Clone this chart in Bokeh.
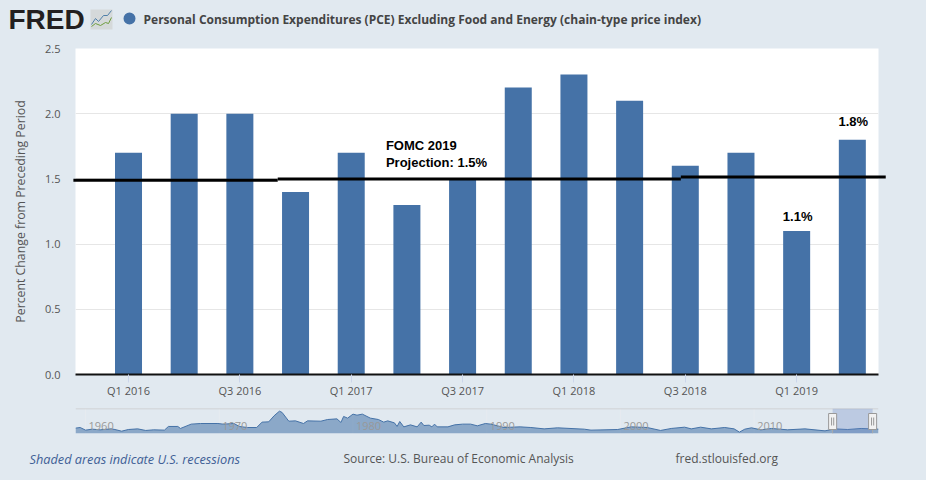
from bokeh.plotting import figure
from bokeh.layouts import column
from bokeh.models import FixedTicker, Range1d, NumeralTickFormatter
from bokeh.embed import file_html
from bokeh.resources import INLINE
from bokeh.core.properties import value

BG = "#e1e9f0"
BLUE = "#4572a7"
INK = "#555555"

quarters = ["Q1 2016", "Q2 2016", "Q3 2016", "Q4 2016", "Q1 2017", "Q2 2017", "Q3 2017",
            "Q4 2017", "Q1 2018", "Q2 2018", "Q3 2018", "Q4 2018", "Q1 2019", "Q2 2019"]
pce = [1.7, 2.0, 2.0, 1.4, 1.7, 1.3, 1.5, 2.2, 2.3, 2.1, 1.6, 1.7, 1.1, 1.8]
labelled_quarters = [0, 2, 4, 6, 8, 10, 12]
y_ticks = [0.0, 0.5, 1.0, 1.5, 2.0, 2.5]

nav_years = [1959.25, 1959.6, 1960, 1960.5, 1961.1, 1961.9, 1962.2, 1962.7, 1963.2, 1963.9, 1964.5, 1965.1,
             1965.9, 1966.2, 1966.9, 1967.1, 1967.9, 1968.6, 1969.9, 1970.3, 1971.1, 1971.5, 1972.1, 1972.8,
             1973.2, 1973.7, 1974.1, 1974.5, 1974.7, 1975.2, 1975.7, 1976.3, 1976.6, 1977.6, 1978.1, 1978.8,
             1979.1, 1979.3, 1979.6, 1980.0, 1980.3, 1980.7, 1981.3, 1981.9, 1982.3, 1982.6, 1983.1, 1983.3,
             1983.5, 1983.8, 1984.3, 1984.8, 1985.1, 1985.3, 1985.7, 1985.9, 1986.1, 1986.3, 1987.1, 1987.6,
             1988.2, 1988.8, 1989.3, 1989.9, 1990.3, 1991.3, 1992.5, 1993.3, 1994.3, 1995.3, 1997.3, 1997.8,
             1999.8, 2000.8, 2002, 2003, 2003.8, 2004.8, 2005.3, 2006, 2006.8, 2007.8, 2008.5, 2008.9,
             2009.3, 2009.8, 2010.5, 2011.3, 2012.5, 2013.8, 2015.3, 2016, 2017, 2018, 2019.3]
nav_values = [.67, .75, .42, .54, .46, .58, .5, .29, .5, .58, .38, .46,
              .42, .88, .88, .63, 1.17, 1.25, 1.25, 1.17, 1.25, .88, .75, .75,
              1.42, 1.46, 2.21, 2.79, 2.63, 1.54, 1.58, 1.25, 1.58, 1.54, 1.75, 1.83,
              1.38, 2.13, 1.92, 2.42, 2.29, 2.42, 1.92, 1.75, 1.42, 1.58, 1.33, .88,
              1.5, .83, 1.08, .83, 1.42, 1.0, 1.04, .83, 1.17, .83, .83, 1.08,
              1.17, 1.17, .96, 1.25, 1.17, .75, .83, .75, .58, .71, .54, .42,
              .5, .83, .75, .38, .63, .79, .58, .79, .58, .75, .58, .17,
              .54, .71, .46, .63, .46, .58, .33, .58, .5, .63, .54]
nav_decades = [1960, 1970, 1980, 1990, 2000, 2010]
nav_selection = [2015.87, 2018.86]

# the hand-drawn projection line is made of three pieces that do not quite meet
projection_pieces_x = [[-0.99, 2.68], [2.68, 9.92], [9.92, 13.6]]
projection_pieces_y = [[1.49, 1.49], [1.50, 1.50], [1.515, 1.515]]

# ---------- main chart ----------
p = figure(width=926, height=404, output_backend="svg", toolbar_location=None,
           x_range=Range1d(-0.952, 13.47), y_range=Range1d(0, 2.5),
           min_border_left=75, min_border_right=48, min_border_top=48, min_border_bottom=30,
           background_fill_color="white", border_fill_color=BG, outline_line_color=None)

p.vbar(x=list(range(len(pce))), top=pce, width=0.485, color=BLUE, line_color=None)

p.xgrid.visible = False
p.ygrid.grid_line_color = "#e6e6e6"
p.ygrid.ticker = FixedTicker(ticks=y_ticks)

p.xaxis.ticker = FixedTicker(ticks=labelled_quarters)
p.xaxis.major_label_overrides = {i: quarters[i] for i in labelled_quarters}
p.xaxis.axis_line_color = "#111111"
p.xaxis.axis_line_width = 2
p.xaxis.major_tick_line_color = "#ccd6eb"
p.xaxis.major_tick_in = 0
p.xaxis.major_tick_out = 8
p.xaxis.minor_tick_line_color = None
p.xaxis.major_label_standoff = 0
p.xaxis.major_label_text_font = "Open Sans"
p.xaxis.major_label_text_font_size = "11px"
p.xaxis.major_label_text_color = INK

p.yaxis.ticker = FixedTicker(ticks=y_ticks)
p.yaxis.formatter = NumeralTickFormatter(format="0.0")
p.yaxis.axis_line_color = None
p.yaxis.major_tick_line_color = None
p.yaxis.minor_tick_line_color = None
p.yaxis.major_tick_out = 0
p.yaxis.major_tick_in = 0
p.yaxis.major_label_standoff = 15
p.yaxis.major_label_text_font = "Open Sans"
p.yaxis.major_label_text_font_size = "11px"
p.yaxis.major_label_text_color = INK
p.yaxis.axis_label = "Percent Change from Preceding Period"
p.yaxis.axis_label_text_font = "Open Sans"
p.yaxis.axis_label_text_font_style = "normal"
p.yaxis.axis_label_text_font_size = "12.3px"
p.yaxis.axis_label_text_color = INK
p.yaxis.axis_label_standoff = 13

for xs, ys in zip(projection_pieces_x, projection_pieces_y):
    p.line(xs, ys, line_color="black", line_width=3, level="overlay")

bold = dict(text_font=value("Liberation Sans"), text_font_style="bold", text_font_size="13px",
            text_color="black", text_baseline="middle")
p.text(x=[5.0], y=[1.756], text=["FOMC 2019"], x_offset=[-21], **bold)
p.text(x=[5.0], y=[1.626], text=["Projection: 1.5%"], x_offset=[-21], **bold)
p.text(x=[12, 13], y=[pce[12] + 0.11, pce[13] + 0.14], text=["1.1%", "1.8%"], x_offset=[1, 1],
       text_align="center", **bold)


# page pixels to each figure's data units, for the furniture outside the frames
def px_x(px):
    return (px - 128) / 55.67


def px_y(py):
    return (374 - py) / 130.4


def nav_x(px):
    return 1959.25 + (px - 75) / 13.372


def nav_y(py):
    return (433 - py) / 8.0


def outside_text(fig, x, y, txt, font="Open Sans", size="12px", color=INK, style="normal"):
    fig.text(x=[x], y=[y], text=[txt], text_font=value(font), text_font_size=size, text_color=color,
             text_font_style=style, text_baseline="middle", level="overlay")


# header: wordmark, thumbnail, series marker and series name
outside_text(p, px_x(8), px_y(19), "FRED", font="Liberation Sans", size="28px", color="#231f20", style="bold")
p.quad(left=[px_x(90)], right=[px_x(112)], top=[px_y(9)], bottom=[px_y(29)], fill_color="#d5d9da",
       line_color=None, level="overlay")
logo_blue = [(91, 24), (95, 18), (98, 21), (103, 15), (107, 15), (111, 10)]
logo_green = [(91, 26), (95, 23), (100, 25), (105, 22), (108, 23), (111, 17)]
p.line([px_x(a) for a, _ in logo_blue], [px_y(b) for _, b in logo_blue],
       line_color="#4f7fa8", line_width=1, level="overlay")
p.line([px_x(a) for a, _ in logo_green], [px_y(b) for _, b in logo_green],
       line_color="#6f9e3f", line_width=1, level="overlay")
p.ellipse(x=[px_x(129)], y=[px_y(18)], width=12 / 55.67, height=12 / 130.4,
          fill_color=BLUE, line_color=None, level="overlay")
outside_text(p, px_x(143), px_y(19),
             "Personal Consumption Expenditures (PCE) Excluding Food and Energy (chain-type price index)",
             size="12px", color="#444444", style="bold")

# ---------- navigator ----------
nav = figure(width=926, height=76, output_backend="svg", toolbar_location=None,
             x_range=Range1d(1959.25, 2019.3), y_range=Range1d(0, 3.125),
             min_border_left=75, min_border_right=48, min_border_top=4, min_border_bottom=47,
             background_fill_color=BG, border_fill_color=BG, outline_line_color=None)
nav.axis.visible = False
nav.grid.visible = False
nav.segment(x0=nav_decades, x1=nav_decades, y0=[0] * 6, y1=[3.125] * 6, line_color="#e6ebf0", line_width=1)
nav.segment(x0=[1959.25], x1=[2019.3], y0=[3.125], y1=[3.125], line_color="#cccccc", line_width=1.5)
nav.varea(x=nav_years, y1=[0] * len(nav_years), y2=nav_values, fill_color=BLUE, fill_alpha=0.55)
nav.line(nav_years, nav_values, line_color=BLUE, line_width=1)
nav.text(x=nav_decades, y=[1.0] * 6, text=[str(d) for d in nav_decades], x_offset=[3] * 6,
         text_font=value("Open Sans"), text_font_size="11px", text_color="#999999", text_baseline="middle")
nav.quad(left=[nav_selection[0]], right=[nav_selection[1]], bottom=[0], top=[3.125],
         fill_color="#6685c2", fill_alpha=0.3, line_color=None)
nav.segment(x0=nav_selection, x1=nav_selection, y0=[0, 0], y1=[1.56, 1.56], line_color="#aaaaaa", line_width=1)
nav.rect(x=nav_selection, y=[1.5, 1.5], width=0.6, height=2.0, fill_color="#f2f2f2",
         line_color="#999999", line_width=1, level="overlay")
nav.segment(x0=[s - 0.08 for s in nav_selection] + [s + 0.08 for s in nav_selection],
            x1=[s - 0.08 for s in nav_selection] + [s + 0.08 for s in nav_selection],
            y0=[1.0] * 4, y1=[2.0] * 4, line_color="#999999", line_width=1, level="overlay")

outside_text(nav, nav_x(29), nav_y(458), "Shaded areas indicate U.S. recessions", size="12.75px",
             color="#3f5f96", style="italic")
outside_text(nav, nav_x(343), nav_y(458), "Source: U.S. Bureau of Economic Analysis")
outside_text(nav, nav_x(675), nav_y(458), "fred.stlouisfed.org")

page = column(p, nav, spacing=0, styles={"background-color": BG})
open("out.html", "w").write(file_html(page, INLINE))
